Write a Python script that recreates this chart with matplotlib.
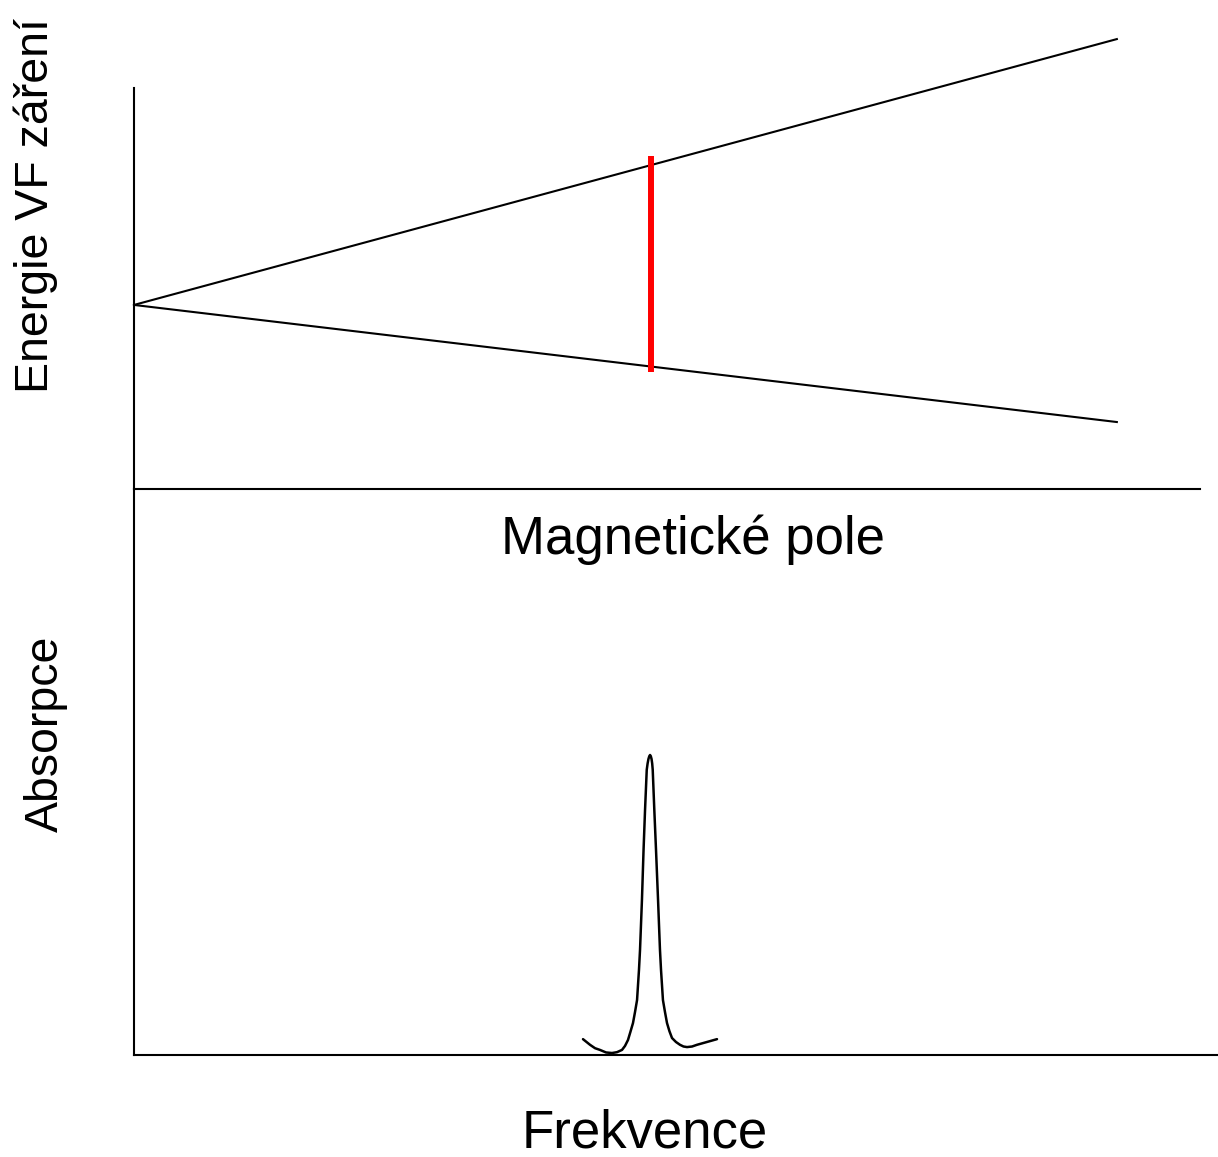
import numpy as np
import matplotlib.pyplot as plt

# Zeeman splitting: magnetic field vs. energy of the two spin levels
field_ends = [0.0, 9.22]
upper_level = [4.59, 11.22]
lower_level = [4.59, 1.67]
# resonance (RF quantum) marked at this field
resonance_field = 4.85
resonance_span = [2.92, 8.30]

# absorption line (frequency, absorbance)
freq = [4.212, 4.278, 4.325, 4.371, 4.428, 4.484, 4.531, 4.578, 4.606,
        4.634, 4.657, 4.681, 4.700, 4.719, 4.737, 4.747, 4.765, 4.780,
        4.794, 4.810, 4.818, 4.826, 4.834, 4.841, 4.848, 4.855, 4.861,
        4.866, 4.881, 4.897, 4.916, 4.934, 4.944, 4.962, 4.981, 5.000,
        5.023, 5.047, 5.084, 5.122, 5.155, 5.188, 5.235, 5.281, 5.375,
        5.469]
absorb = [0.028, 0.018, 0.012, 0.009, 0.0045, 0.0035, 0.005, 0.009, 0.016,
          0.0265, 0.041, 0.0565, 0.076, 0.097, 0.150, 0.186, 0.274, 0.362,
          0.433, 0.504, 0.515, 0.523, 0.528, 0.530, 0.528, 0.523, 0.515,
          0.504, 0.433, 0.362, 0.274, 0.186, 0.150, 0.097, 0.076, 0.0565,
          0.042, 0.030, 0.023, 0.018, 0.015, 0.014, 0.015, 0.018, 0.023,
          0.028]

W, H = 1218, 1157
fig = plt.figure(figsize=(W / 100, H / 100), dpi=100)
plt.rcParams['font.family'] = ['Liberation Sans', 'DejaVu Sans']


def box(x0, y_top, x1, y_bot):
    return [x0 / W, 1 - y_bot / H, (x1 - x0) / W, (y_bot - y_top) / H]


# upper panel
ax1 = fig.add_axes(box(134, 88, 1200, 489))
ax1.set_xlim(0, 10)
ax1.set_ylim(0, 10)
ax1.plot(field_ends, upper_level, color='black', lw=1.5, clip_on=False)
ax1.plot(field_ends, lower_level, color='black', lw=1.5, clip_on=False)
ax1.plot([resonance_field, resonance_field], resonance_span,
         color='#ff0000', lw=4.3, solid_capstyle='butt')

# lower panel, same x scale per pixel
ax2 = fig.add_axes(box(134, 489, 1218, 1055))
ax2.set_xlim(0, 10 * 1084 / 1066)
ax2.set_ylim(0, 1)
ax2.plot(freq, absorb, color='black', lw=1.8, clip_on=False,
         solid_joinstyle='round', solid_capstyle='round')

for ax in (ax1, ax2):
    for side in ('top', 'right'):
        ax.spines[side].set_visible(False)
    for side in ('left', 'bottom'):
        ax.spines[side].set_linewidth(1.5)
    ax.set_xticks([])
    ax.set_yticks([])
    ax.patch.set_alpha(0)

fig.text(693 / W, 1 - 540 / H, 'Magnetické pole', fontsize=38,
         ha='center', va='center')
fig.text(645 / W, 1 - 1133 / H, 'Frekvence', fontsize=38,
         ha='center', va='center')
fig.text(36 / W, 1 - 206 / H, 'Energie VF záření', fontsize=33.5,
         rotation=90, ha='center', va='center')
fig.text(46 / W, 1 - 734 / H, 'Absorpce', fontsize=33.5,
         rotation=90, ha='center', va='center')

fig.savefig('out.png', dpi=100)
